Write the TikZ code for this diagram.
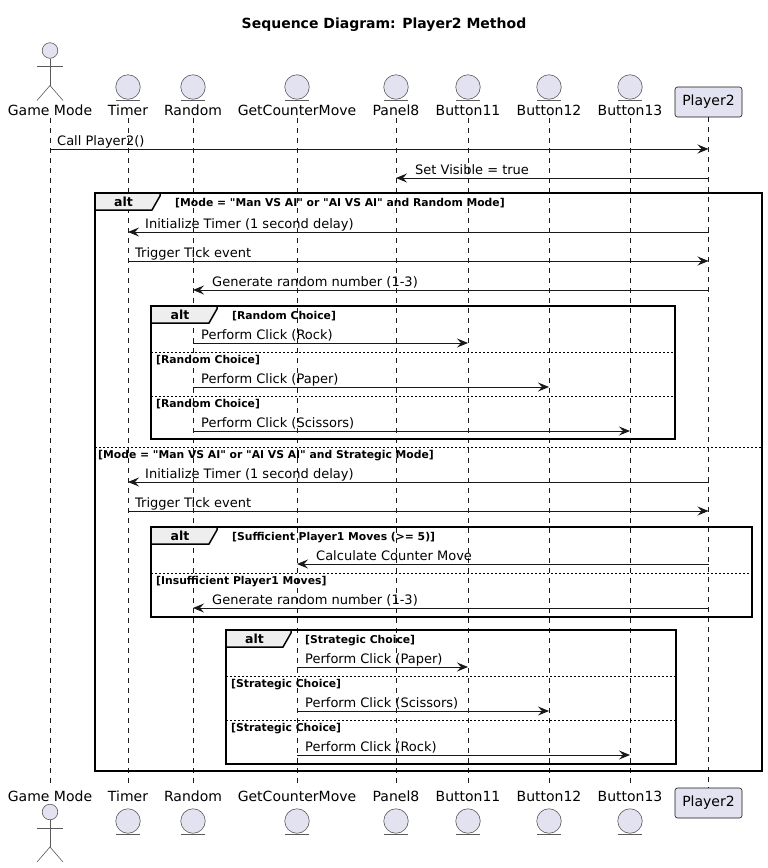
\documentclass[tikz,border=0pt]{standalone}
\usepackage{fontspec}
\setmainfont{DejaVu Sans}
\usetikzlibrary{arrows.meta}
\definecolor{partfill}{HTML}{E2E2F0}
\definecolor{ink}{HTML}{181818}
\definecolor{glyphline}{HTML}{5A5A5A}
\definecolor{tabfill}{HTML}{EEEEEE}

% bold face loaded without any character mapping, for straight double quotes
\font\guardquote="DejaVu Sans/B" at 10.8pt
\newcommand\sq{{\guardquote\char34}}

% lifeline x positions are kept as coordinates (x-<name>) at y = 0
\newcommand\lifex[2]{\coordinate (x-#1) at (#2,0);}

% entity participant: circle with underline, name, repeated at the foot
\newcommand\drawentity[3]{%
  \node[entitycirc] (#1-top) at (#2,87) {};
  \draw[glyph] (#2-12,100) -- (#2+12,100);
  \node[partname] (#1-name) at (#2,115) {#3};
  \node[partname] (#1-bname) at (#2,801) {#3};
  \node[entitycirc] (#1-bot) at (#2,821) {};
  \draw[glyph] (#2-12,834) -- (#2+12,834);
  \coordinate (#1-ls) at (#2,118);
  \coordinate (#1-le) at (#2,784);
  \draw[lifeline] (#1-ls) -- (#1-le);
}

% stick-figure actor, head centred at (x, y)
\newcommand\drawactor[2]{%
  \draw[glyph, fill=partfill] (#1,#2) circle[radius=7.8pt];
  \draw[glyph] (#1,#2+8) -- (#1,#2+35);
  \draw[glyph] (#1-13,#2+16) -- (#1+13,#2+16);
  \draw[glyph] (#1-13,#2+50) -- (#1,#2+35) -- (#1+13,#2+50);
}

% message: name, from, to, y, label x, text
\newcommand\sqmsg[6]{%
  \path (x-#2) ++(0,#4) coordinate (#1-a);
  \path (x-#3) ++(0,#4) coordinate (#1-b);
  \draw[msgline] (#1-a) -- (#1-b);
  \node[msglabel] (#1-t) at (#5,#4-4) {#6};
}

% combined fragment: name, left, top, right, bottom, tab right, guard x, guard
\newcommand\sqframe[8]{%
  \draw[frameline] (#2,#3) rectangle (#4,#5);
  \filldraw[frameline, fill=tabfill] (#2,#3) -- (#6,#3) -- (#6,#3+3)
    -- (#6-8,#3+17) -- (#2,#3+17) -- cycle;
  \node[alttext] (#1-kw) at ({(#2+#6-8)/2},#3+13) {alt};
  \node[guard] (#1-g) at (#7,#3+13) {#8};
}

% operand separator: name, left, right, y, guard
\newcommand\sqsep[5]{%
  \draw[sepline] (#2,#4) -- (#3,#4);
  \node[guard] (#1) at (#2+5,#4+11) {#5};
}

\begin{document}
\begin{tikzpicture}[x=1pt,y=-1pt,
  lifeline/.style={draw=ink, line width=0.5pt, dash pattern=on 5pt off 5pt},
  msgline/.style={draw=ink, line width=1pt, -{Stealth[length=11pt,width=9pt,inset=4pt]}},
  msglabel/.style={anchor=base west, inner sep=0pt, font=\fontsize{13}{15}\selectfont, text=black},
  partname/.style={anchor=base, inner sep=0pt, font=\fontsize{14}{16}\selectfont, text=black},
  entitycirc/.style={circle, draw=glyphline, line width=0.6pt, fill=partfill, minimum size=24.5pt, inner sep=0pt},
  glyph/.style={draw=glyphline, line width=0.6pt},
  p2box/.style={draw=ink, line width=0.6pt, fill=partfill, rounded corners=2.5pt, minimum width=67pt, minimum height=30pt, inner sep=0pt, font=\fontsize{14}{16}\selectfont},
  frameline/.style={draw=black, line width=1.5pt, line join=miter},
  sepline/.style={draw=black, line width=0.8pt, dash pattern=on 2pt off 2pt},
  alttext/.style={anchor=base, inner sep=0pt, font=\bfseries\fontsize{12.5}{14}\selectfont},
  guard/.style={anchor=base west, inner sep=0pt, font=\bfseries\fontsize{10.8}{12}\selectfont},
]
\useasboundingbox[fill=white] (0,0) rectangle (768,868);

\node[anchor=base, inner sep=0pt, font=\bfseries\fontsize{14}{16}\selectfont] (title) at (384,28) {Sequence Diagram: Player2 Method};

\lifex{gm}{50}
\lifex{timer}{128}
\lifex{random}{193}
\lifex{gcm}{297}
\lifex{panel}{396}
\lifex{b11}{468}
\lifex{b12}{549}
\lifex{b13}{630}
\lifex{p2}{708.5}

% Game Mode actor
\coordinate (gm-ls) at (50,118);
\coordinate (gm-le) at (50,784);
\draw[lifeline] (gm-ls) -- (gm-le);
\drawactor{50}{50.5}
\node[partname] (gm-name) at (50,115) {Game Mode};
\node[partname] (gm-bname) at (50,801) {Game Mode};
\drawactor{50}{812}

\drawentity{timer}{128}{Timer}
\drawentity{random}{193}{Random}
\drawentity{gcm}{297}{GetCounterMove}
\drawentity{panel}{396}{Panel8}
\drawentity{b11}{468}{Button11}
\drawentity{b12}{549}{Button12}
\drawentity{b13}{630}{Button13}

% Player2 participant
\node[p2box] (p2-top) at (708.5,102) {Player2};
\node[p2box] (p2-bot) at (708.5,803) {Player2};
\draw[lifeline] (p2-top.south) -- (p2-bot.north);

\sqmsg{call}{gm}{p2}{149}{57}{Call Player2()}
\sqmsg{vis}{p2}{panel}{178}{415}{Set Visible = true}

\sqframe{outer}{95}{193}{762}{771}{160}{175}{[Mode = \sq Man VS AI\sq{} or \sq AI VS AI\sq{} and Random Mode]}
\sqmsg{initA}{p2}{timer}{232}{145}{Initialize Timer (1 second delay)}
\sqmsg{tickA}{timer}{p2}{261}{135}{Trigger Tick event}
\sqmsg{genA}{p2}{random}{290}{212}{Generate random number (1-3)}

\sqframe{randalt}{151}{306}{675}{439}{217}{232}{[Random Choice]}
\sqmsg{rockA}{random}{b11}{343}{201}{Perform Click (Rock)}
\sqsep{randsepA}{151}{675}{352}{[Random Choice]}
\sqmsg{paperA}{random}{b12}{387}{201}{Perform Click (Paper)}
\sqsep{randsepB}{151}{675}{396}{[Random Choice]}
\sqmsg{scisA}{random}{b13}{431}{201}{Perform Click (Scissors)}

\draw[sepline] (95,447) -- (762,447);
\node[guard] (outersep) at (98,458) {[Mode = \sq Man VS AI\sq{} or \sq AI VS AI\sq{} and Strategic Mode]};
\sqmsg{initB}{p2}{timer}{482}{145}{Initialize Timer (1 second delay)}
\sqmsg{tickB}{timer}{p2}{511}{135}{Trigger Tick event}

\sqframe{movealt}{151}{527}{752}{617}{217}{232}{[Sufficient Player1 Moves (>= 5)]}
\sqmsg{calc}{p2}{gcm}{564}{316}{Calculate Counter Move}
\sqsep{movesep}{151}{752}{573}{[Insufficient Player1 Moves]}
\sqmsg{genB}{p2}{random}{608}{212}{Generate random number (1-3)}

\sqframe{stratalt}{226}{630}{676}{764}{291}{305}{[Strategic Choice]}
\sqmsg{paperB}{gcm}{b11}{667}{305}{Perform Click (Paper)}
\sqsep{stratsepA}{226}{676}{676}{[Strategic Choice]}
\sqmsg{scisB}{gcm}{b12}{711}{305}{Perform Click (Scissors)}
\sqsep{stratsepB}{226}{676}{720}{[Strategic Choice]}
\sqmsg{rockB}{gcm}{b13}{755}{305}{Perform Click (Rock)}
\end{tikzpicture}
\end{document}
